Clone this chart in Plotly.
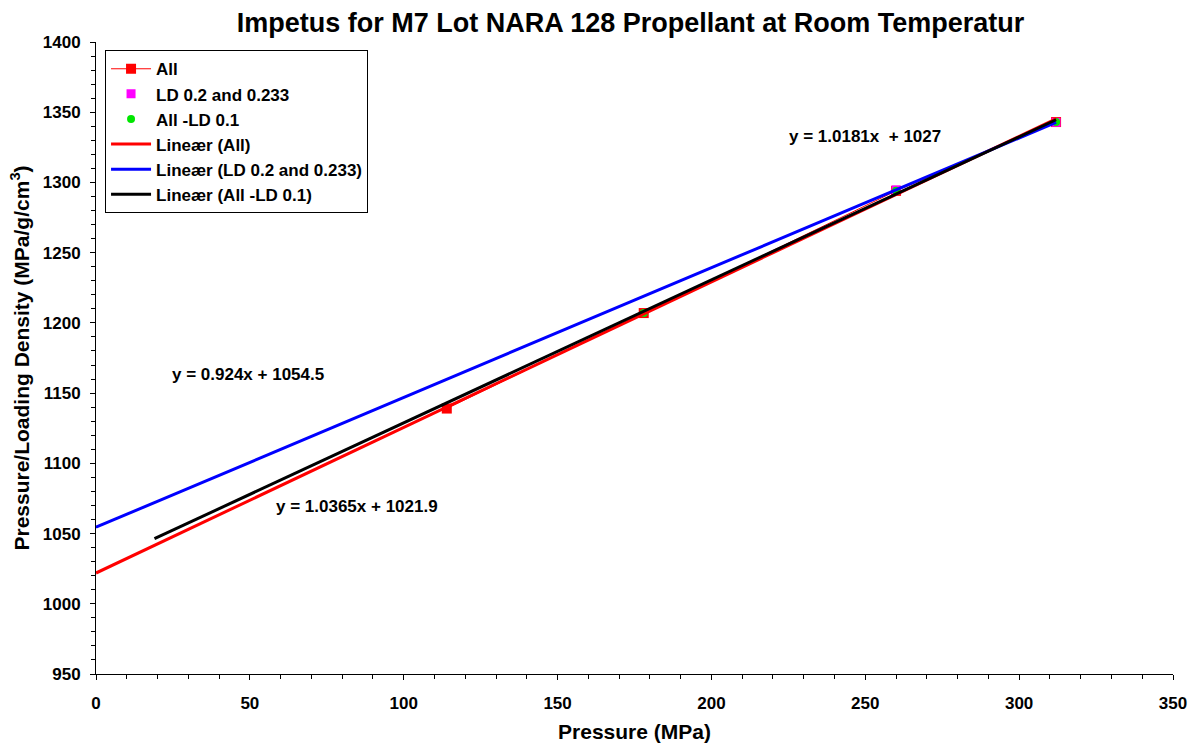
import plotly.graph_objects as go
import numpy as np

# Measured points: pressure (MPa) vs pressure / loading density (MPa/g/cm3)
all_x = [114, 178, 260, 312]
all_y = [1139, 1207, 1294, 1343]

ld_x = [260, 312]
ld_y = [1294.7, 1342.8]

no01_x = [178, 260, 312]
no01_y = [1207, 1294, 1343]

# Linear trend lines: slope, intercept, x-extent
fit_all = (1.0365, 1021.9, 0, 312)
fit_ld = (0.924, 1054.5, 0, 312)
fit_no01 = (1.0181, 1027, 19, 312)

# Axis ticks
x_ticks = [0, 50, 100, 150, 200, 250, 300, 350]
y_ticks = [950, 1000, 1050, 1100, 1150, 1200, 1250, 1300, 1350, 1400]

FONT = "Liberation Sans, Arial, sans-serif"

fig = go.Figure()

fig.add_trace(go.Scatter(
    x=all_x, y=all_y, name="<b>All</b>", mode="lines+markers",
    line=dict(color="#ff0000", width=1),
    marker=dict(symbol="square", size=10, color="#ff0000"),
))
fig.add_trace(go.Scatter(
    x=ld_x, y=ld_y, name="<b>LD 0.2 and 0.233</b>", mode="markers",
    marker=dict(symbol="square", size=9, color="#ff00ff"),
))
fig.add_trace(go.Scatter(
    x=no01_x, y=no01_y, name="<b>All -LD 0.1</b>", mode="markers",
    marker=dict(symbol="circle", size=8, color="#00e600"),
))

for (m, b, x0, x1), name, color in [
    (fit_all, "<b>Lineær (All)</b>", "#ff0000"),
    (fit_ld, "<b>Lineær (LD 0.2 and 0.233)</b>", "#0000ff"),
    (fit_no01, "<b>Lineær (All -LD 0.1)</b>", "#000000"),
]:
    xs = np.array([x0, x1], dtype=float)
    fig.add_trace(go.Scatter(
        x=xs, y=m * xs + b, name=name, mode="lines",
        line=dict(color=color, width=3),
    ))

# Equation labels placed beside their trend lines
annos = [
    (250, 1333, "<b>y = 1.0181x  + 1027</b>"),
    (49.4, 1163.6, "<b>y = 0.924x + 1054.5</b>"),
    (84.8, 1069.6, "<b>y = 1.0365x + 1021.9</b>"),
]
for ax, ay, txt in annos:
    fig.add_annotation(x=ax, y=ay, text=txt, showarrow=False,
                       font=dict(family=FONT, size=17, color="black"))

axis_common = dict(
    showgrid=False, zeroline=False, showline=True, linecolor="black", linewidth=1,
    ticks="outside", ticklen=5, tickcolor="black", tickwidth=1,
    tickfont=dict(family=FONT, size=17, color="black"),
    mirror=False, automargin=False,
)

fig.update_layout(
    width=1192, height=743,
    paper_bgcolor="white", plot_bgcolor="white",
    margin=dict(l=96, r=19, t=42, b=69),
    title=dict(
        text="<b>Impetus for M7 Lot NARA 128 Propellant at Room Temperatur</b>",
        x=0.529, xanchor="center", y=0.970, yanchor="middle",
        font=dict(family=FONT, size=27, color="black"),
    ),
    xaxis=dict(
        range=[0, 350], tickmode="array", tickvals=x_ticks,
        ticktext=[f"<b>{v}</b>" for v in x_ticks], ticklabelstandoff=9,
        minor=dict(ticks="outside", ticklen=4, dtick=10, tick0=0, tickcolor="black"),
        title=dict(text="<b>Pressure (MPa)</b>", standoff=14,
                   font=dict(family=FONT, size=21, color="black")),
        **axis_common,
    ),
    yaxis=dict(
        range=[950, 1400], tickmode="array", tickvals=y_ticks,
        ticktext=[f"<b>{v}</b>" for v in y_ticks], ticklabelstandoff=6,
        minor=dict(ticks="outside", ticklen=4, dtick=10, tick0=950, tickcolor="black"),
        title=dict(text="<b>Pressure/Loading Density (MPa/g/cm<sup>3</sup>)</b>", standoff=7,
                   font=dict(family=FONT, size=21, color="black")),
        **axis_common,
    ),
    legend=dict(
        x=0.0084, y=0.987, xanchor="left", yanchor="top",
        bgcolor="white", bordercolor="black", borderwidth=1,
        font=dict(family=FONT, size=17, color="black"),
        tracegroupgap=0, itemwidth=40,
    ),
    showlegend=True,
)

fig.write_html("out.html")
